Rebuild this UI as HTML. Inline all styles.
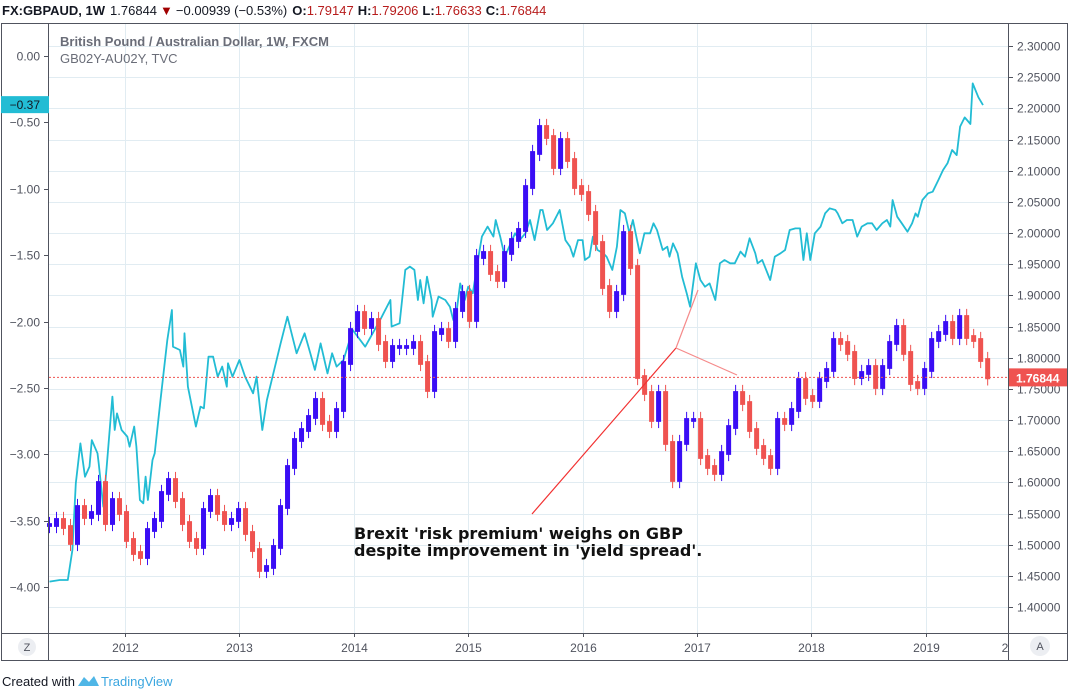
<!DOCTYPE html>
<html><head><meta charset="utf-8">
<style>
html,body{margin:0;padding:0;background:#fff;width:1073px;height:691px;overflow:hidden;font-family:"Liberation Sans","DejaVu Sans",sans-serif;}
svg text{font-family:"Liberation Sans","DejaVu Sans",sans-serif;}
</style></head>
<body>
<svg id="chart" width="1073" height="691" viewBox="0 0 1073 691" xmlns="http://www.w3.org/2000/svg">
  <text x="2" y="15" font-size="13" fill="#131722"><tspan font-weight="bold">FX:GBPAUD, 1W</tspan><tspan dx="5">1.76844</tspan><tspan fill="#a10000" dx="3">▼</tspan><tspan dx="3">−0.00939 (−0.53%)</tspan><tspan dx="5" font-weight="bold">O:</tspan><tspan fill="#b71c1c">1.79147</tspan><tspan dx="4" font-weight="bold">H:</tspan><tspan fill="#b71c1c">1.79206</tspan><tspan dx="4" font-weight="bold">L:</tspan><tspan fill="#b71c1c">1.76633</tspan><tspan dx="4" font-weight="bold">C:</tspan><tspan fill="#b71c1c">1.76844</tspan></text>
  <g id="grid"></g>
  <g id="series"></g>
  <rect x="1.5" y="23.5" width="1066" height="637" fill="none" stroke="#50535e" stroke-width="1"/>
  <line x1="48.5" y1="23" x2="48.5" y2="661" stroke="#50535e"/>
  <line x1="1008.5" y1="23" x2="1008.5" y2="661" stroke="#50535e"/>
  <line x1="1" y1="633.5" x2="1068" y2="633.5" stroke="#50535e"/>
  <g id="axes"></g>
  <text x="60" y="46" font-size="13" font-weight="bold" fill="#6a6d78">British Pound / Australian Dollar, 1W, FXCM</text>
  <text x="60" y="63" font-size="13" fill="#6a6d78">GB02Y-AU02Y, TVC</text>
  <text x="354" y="539" font-size="16" font-weight="bold" fill="#111" style="font-family:'DejaVu Sans',sans-serif">Brexit 'risk premium' weighs on GBP</text>
  <text x="354" y="556" font-size="16" font-weight="bold" fill="#111" style="font-family:'DejaVu Sans',sans-serif">despite improvement in 'yield spread'.</text>
  <circle cx="27" cy="647" r="9" fill="#eceef2"/>
  <text x="27" y="651" font-size="11" text-anchor="middle" fill="#50535e">Z</text>
  <circle cx="1040" cy="646" r="10" fill="#eceef2"/>
  <text x="1040" y="650" font-size="11" text-anchor="middle" fill="#50535e">A</text>
  <text x="2" y="686" font-size="13" fill="#131722">Created with</text>
  <g>
    <path d="M78 686 L84 677 L89 682 L94 676 L99 686 Z" fill="#4fb6e6"/>
    <text x="101" y="686" font-size="13" fill="#3aa6e0">TradingView</text>
  </g>
</svg>
<script>
// ---- data ----
const candleStart = 2011.34;
const candleStep = 0.0612;
const closes = [1.5316,1.5397,1.5284,1.5028,1.5605,1.5445,1.5509,1.5990,1.5348,1.5717,1.5509,1.5076,1.4867,1.4803,1.5236,1.5397,1.5830,1.6038,1.5717,1.5348,1.5076,1.4964,1.5557,1.5766,1.5509,1.5348,1.5397,1.5557,1.5188,1.4915,1.4595,1.4643,1.4964,1.5605,1.6247,1.6680,1.6840,1.7049,1.7322,1.6953,1.6840,1.7161,1.7915,1.8444,1.8717,1.8493,1.8605,1.8236,1.7963,1.8172,1.8172,1.8172,1.8236,1.7915,1.7482,1.8396,1.8444,1.8284,1.8765,1.9038,1.8605,1.9615,1.9680,1.9359,1.9247,1.9680,1.9888,2.0049,2.0738,2.1284,2.1701,2.1540,2.1059,2.1492,2.1171,2.0738,2.0642,2.0321,1.9840,1.9134,1.8765,1.9038,2.0000,1.9455,1.7690,1.7434,1.7001,1.7434,1.6632,1.6038,1.6632,1.7001,1.7001,1.6407,1.6247,1.6151,1.6471,1.6888,1.7434,1.7273,1.6840,1.6568,1.6407,1.6247,1.7001,1.6953,1.7161,1.7642,1.7370,1.7322,1.7642,1.7803,1.8284,1.8236,1.8076,1.7690,1.7755,1.7851,1.7530,1.7851,1.8236,1.8493,1.8076,1.7594,1.7530,1.7803,1.8284,1.8396,1.8557,1.8332,1.8653,1.8332,1.8284,1.7963,1.76844];
const spreadDates = [2011.34,2011.43,2011.50,2011.54,2011.57,2011.61,2011.65,2011.69,2011.71,2011.76,2011.77,2011.81,2011.84,2011.89,2011.91,2011.93,2011.97,2012.02,2012.04,2012.08,2012.10,2012.13,2012.16,2012.18,2012.20,2012.24,2012.26,2012.31,2012.37,2012.41,2012.42,2012.48,2012.51,2012.52,2012.55,2012.62,2012.66,2012.69,2012.73,2012.77,2012.81,2012.85,2012.89,2012.90,2012.94,2013.00,2013.05,2013.12,2013.15,2013.20,2013.24,2013.36,2013.42,2013.50,2013.57,2013.62,2013.66,2013.71,2013.77,2013.81,2013.85,2013.91,2013.99,2014.10,2014.23,2014.32,2014.33,2014.40,2014.45,2014.49,2014.53,2014.56,2014.58,2014.61,2014.64,2014.68,2014.69,2014.74,2014.80,2014.84,2014.87,2014.90,2014.93,2014.97,2015.00,2015.04,2015.09,2015.12,2015.17,2015.22,2015.24,2015.28,2015.32,2015.41,2015.45,2015.50,2015.54,2015.58,2015.63,2015.65,2015.69,2015.74,2015.80,2015.85,2015.89,2015.92,2015.96,2016.00,2016.02,2016.06,2016.09,2016.13,2016.18,2016.21,2016.26,2016.30,2016.33,2016.37,2016.41,2016.44,2016.50,2016.54,2016.59,2016.62,2016.65,2016.70,2016.74,2016.76,2016.79,2016.83,2016.87,2016.91,2016.94,2016.99,2017.03,2017.07,2017.11,2017.16,2017.20,2017.24,2017.29,2017.33,2017.38,2017.42,2017.46,2017.51,2017.53,2017.57,2017.64,2017.68,2017.73,2017.77,2017.81,2017.86,2017.90,2017.93,2017.96,2017.99,2018.03,2018.08,2018.12,2018.16,2018.21,2018.23,2018.27,2018.31,2018.36,2018.40,2018.44,2018.49,2018.53,2018.57,2018.62,2018.66,2018.69,2018.71,2018.75,2018.79,2018.84,2018.88,2018.91,2018.93,2018.97,2019.02,2019.06,2019.11,2019.15,2019.19,2019.23,2019.27,2019.30,2019.34,2019.39,2019.41,2019.46,2019.50];
const spreadValues = [-3.958,-3.946,-3.946,-3.72,-3.218,-2.917,-3.168,-3.092,-2.892,-2.992,-3.067,-3.394,-3.092,-2.565,-2.816,-2.691,-2.816,-2.866,-2.942,-2.791,-2.942,-3.343,-3.368,-3.168,-3.343,-3.042,-2.992,-2.590,-2.139,-1.913,-2.189,-2.214,-2.339,-2.088,-2.490,-2.791,-2.641,-2.653,-2.264,-2.264,-2.415,-2.339,-2.490,-2.314,-2.415,-2.289,-2.415,-2.540,-2.415,-2.816,-2.590,-2.164,-1.963,-2.239,-2.088,-2.239,-2.364,-2.164,-2.390,-2.239,-2.339,-2.289,-2.063,-2.189,-1.988,-1.837,-2.038,-2.013,-1.611,-1.586,-1.611,-1.837,-1.687,-1.862,-1.662,-1.837,-1.963,-1.812,-1.837,-1.888,-1.988,-1.913,-1.712,-1.837,-1.737,-1.787,-1.511,-1.360,-1.285,-1.360,-1.235,-1.360,-1.511,-1.335,-1.386,-1.335,-1.235,-1.386,-1.160,-1.160,-1.310,-1.260,-1.160,-1.386,-1.436,-1.511,-1.386,-1.386,-1.536,-1.511,-1.360,-1.461,-1.486,-1.511,-1.611,-1.436,-1.160,-1.185,-1.335,-1.235,-1.486,-1.335,-1.335,-1.260,-1.310,-1.461,-1.436,-1.511,-1.411,-1.486,-1.662,-1.787,-1.888,-1.561,-1.687,-1.737,-1.712,-1.837,-1.561,-1.536,-1.561,-1.561,-1.473,-1.511,-1.373,-1.486,-1.561,-1.536,-1.687,-1.511,-1.486,-1.461,-1.310,-1.298,-1.298,-1.536,-1.335,-1.536,-1.335,-1.285,-1.185,-1.147,-1.160,-1.185,-1.260,-1.235,-1.235,-1.360,-1.285,-1.260,-1.260,-1.310,-1.260,-1.235,-1.285,-1.084,-1.210,-1.260,-1.323,-1.260,-1.185,-1.210,-1.084,-1.034,-1.022,-0.934,-0.859,-0.808,-0.708,-0.746,-0.532,-0.462,-0.512,-0.206,-0.311,-0.37];
const leftTicks = [0,-0.5,-1,-1.5,-2,-2.5,-3,-3.5,-4];
const rightTicks = [2.30,2.25,2.20,2.15,2.10,2.05,2.00,1.95,1.90,1.85,1.80,1.75,1.70,1.65,1.60,1.55,1.50,1.45,1.40];
const yearTicks = [2012,2013,2014,2015,2016,2017,2018,2019];
const lastPrice = 1.76844;
const lastSpread = -0.37;

// ---- scales ----
const X0 = 49, X1 = 1008;
function xs(t){ return 125 + (t - 2012) * 114.4; }
function yR(p){ return 46 + (2.30 - p) / 0.05 * 31.17; }
function yL(v){ return 56 + (-v) / 0.5 * 66.4; }
const NS = 'http://www.w3.org/2000/svg';
function mk(tag, attrs, parent){ const e = document.createElementNS(NS, tag); for (const k in attrs) e.setAttribute(k, attrs[k]); parent.appendChild(e); return e; }
const grid = document.getElementById('grid'), ser = document.getElementById('series'), axes = document.getElementById('axes');

// grid
rightTicks.forEach(p => {
  const y = Math.round(yR(p)) + 0.5;
  const g = mk('line', {x1: X0, x2: X1, y1: y, y2: y, stroke: '#e1ecf2'}, grid);
  
  
  const tk = mk('line', {x1: 1008, x2: 1013, y1: y, y2: y, stroke: '#50535e'}, axes);
  
  
  const tx = mk('text', {x: 1017, y: y + 4, 'font-size': 12, fill: '#50535e'}, axes);
  
  
  tx.textContent = p.toFixed(5);
});
yearTicks.forEach(t => {
  const x = Math.round(xs(t)) + 0.5;
  const g = mk('line', {x1: x, x2: x, y1: 24, y2: 633, stroke: '#e1ecf2'}, grid);
  
  
  const tk = mk('line', {x1: x, x2: x, y1: 633, y2: 637, stroke: '#50535e'}, axes);
  
  
  const tx = mk('text', {x: x, y: 652, 'font-size': 12, fill: '#50535e', 'text-anchor': 'middle'}, axes);
  
  
  tx.textContent = t;
});
{
  const tx = mk('text', {x: 1005, y: 652, 'font-size': 12, fill: '#50535e', 'text-anchor': 'middle'}, axes);
  
  
  tx.textContent = '2';
}
leftTicks.forEach(v => {
  const y = Math.round(yL(v)) + 0.5;
  const tk = mk('line', {x1: 44, x2: 48, y1: y, y2: y, stroke: '#50535e'}, axes);
  
  
  const tx = mk('text', {x: 40, y: y + 4, 'font-size': 12, fill: '#50535e', 'text-anchor': 'end'}, axes);
  
  
  tx.textContent = (v === 0 ? '0.00' : '−' + Math.abs(v).toFixed(2));
});

// spread line
{
  let d = '';
  spreadDates.forEach((t, i) => { d += (i ? 'L' : 'M') + xs(t).toFixed(1) + ' ' + yL(spreadValues[i]).toFixed(1); });
  const p = mk('path', {d: d, fill: 'none', stroke: '#22bcd4', 'stroke-width': 1.8, 'stroke-linejoin': 'round'}, ser);
  
  
}

// candles
closes.forEach((c, i) => {
  const o = i ? closes[i - 1] : c;
  const up = c >= o;
  const col = up ? '#3a0df5' : '#ef5350';
  const x = xs(candleStart + i * candleStep);
  const hi = Math.max(o, c) + 0.013, lo = Math.min(o, c) - 0.013;
  const w = mk('line', {x1: x, x2: x, y1: yR(hi), y2: yR(lo), stroke: col, 'stroke-width': 1}, ser);
  
  
  const yt = yR(Math.max(o, c) + 0.003), yb = yR(Math.min(o, c) - 0.003);
  const b = mk('rect', {x: x - 2.5, y: yt, width: 5, height: Math.max(1, yb - yt), fill: col}, ser);
  
  
});

// last price line
{
  const y = yR(lastPrice);
  const l = mk('line', {x1: X0, x2: X1, y1: y, y2: y, stroke: '#ef5350', 'stroke-dasharray': '2 2', 'stroke-width': 1}, ser);
  
  
  const r = mk('rect', {x: 1009, y: y - 9, width: 58, height: 18, fill: '#ef5350'}, axes);
  
  
  const t = mk('text', {x: 1016, y: y + 5, 'font-size': 12, fill: '#fff', 'font-weight': 'bold'}, axes);
  
  
  t.textContent = lastPrice.toFixed(5);
  const ys = yL(lastSpread);
  const r2 = mk('rect', {x: 1, y: ys - 9, width: 48, height: 17, fill: '#22bcd4'}, axes);
  
  
  const t2 = mk('text', {x: 40, y: ys + 4, 'font-size': 12, fill: '#131722', 'text-anchor': 'end'}, axes);
  
  
  t2.textContent = '−0.37';
}

// annotation lines
{
  const a = mk('line', {x1: 532, y1: 514, x2: 676, y2: 348, stroke: '#f23030', 'stroke-width': 1.2}, ser);
  
  
  const b = mk('line', {x1: 676, y1: 348, x2: 698, y2: 290, stroke: '#f58a8a', 'stroke-width': 1.2}, ser);
  
  
  const c = mk('line', {x1: 676, y1: 348, x2: 737, y2: 375, stroke: '#f58a8a', 'stroke-width': 1.2}, ser);
  
  
}
</script>
</body></html>
